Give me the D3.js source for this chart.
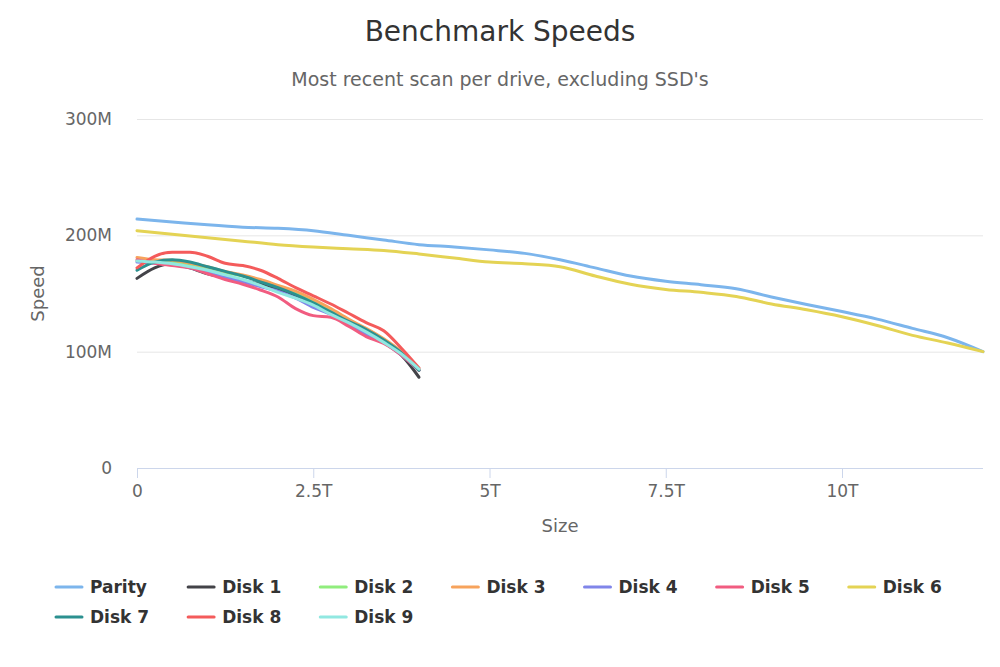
<!DOCTYPE html>
<html>
<head>
<meta charset="utf-8">
<script src="https://cdn.jsdelivr.net/npm/d3@7"></script>
<style>
  body { margin: 0; background: #fff; }
  text { font-family: "DejaVu Sans", sans-serif; }
</style>
</head>
<body>
<script>
const width = 1000;
const height = 667;
const margin = { top: 119, bottom: 199, right: 17, left: 137 };

// size in T, speed in M
const seriesNames = ["Parity", "Disk 1", "Disk 2", "Disk 3", "Disk 4", "Disk 5", "Disk 6", "Disk 7", "Disk 8", "Disk 9"];
const colores = ["#7cb5ec", "#434348", "#90ed7d", "#f7a35c", "#8085e9", "#f15c80", "#e4d354", "#2b908f", "#f45b5b", "#91e8e1"];

const largeSizes = [0, 0.5, 1, 1.5, 2, 2.5, 3, 3.5, 4, 4.5, 5, 5.5, 6, 6.5, 7, 7.5, 8, 8.5, 9, 9.5, 10, 10.5, 11, 11.5, 12];
const smallSizes = [0, 0.25, 0.5, 0.75, 1, 1.25, 1.5, 1.75, 2, 2.25, 2.5, 2.75, 3, 3.25, 3.5, 3.75, 4];

const parity = [214, 211.5, 209, 207, 206, 204, 200, 196, 192, 190, 187.5, 184.5, 179, 172, 165, 160.5, 157.5, 154, 147, 140.5, 134.5, 128, 120, 112, 100];
const disk6 = [204, 201, 198, 195, 192, 190, 188.5, 187, 184, 180.5, 177, 175.5, 173, 165, 158, 153.5, 151, 147.5, 141, 136, 130, 122.5, 114, 107.5, 100];

const disk1 = [163, 172, 176, 172, 167, 164, 161, 158, 154, 148, 141, 133, 124, 117, 108, 97, 78];
const disk2 = [178, 178, 177.5, 175, 172, 168, 165, 161, 156, 151, 144, 136, 127, 119, 110, 99, 84];
const disk3 = [181, 179, 178.5, 176, 173, 169, 166, 162, 157, 152, 145, 137, 128, 120, 111, 100, 85];
const disk4 = [177, 176, 175, 172, 168, 164, 160, 156, 152, 146, 138, 132, 124, 115, 108, 97, 84];
const disk5 = [179, 176, 174, 172, 167, 162, 158, 153, 147, 137, 131, 129.5, 122, 113, 107, 97, 84];
const disk7 = [170, 177, 179, 177, 173, 169, 165, 160, 155, 149, 142, 134, 126, 119, 110, 99, 84];
const disk8 = [172, 182, 185.5, 185.5, 182, 176, 174, 170, 163, 155, 148, 141, 133, 125, 118, 103, 86];
const disk9 = [178, 177, 175.5, 173, 170, 166, 162, 157, 151, 146, 140, 132, 125, 117, 108, 98, 85];

const valoresSerie = [parity, disk1, disk2, disk3, disk4, disk5, disk6, disk7, disk8, disk9];

const xTicks = [0, 2.5, 5, 7.5, 10];
const xTickLabels = ["0", "2.5T", "5T", "7.5T", "10T"];
const yTicks = [0, 100, 200, 300];
const yTickLabels = ["0", "100M", "200M", "300M"];

const datos = seriesNames.map((nombre, i) => {
  const valores = valoresSerie[i];
  const sizes = valores.length === largeSizes.length ? largeSizes : smallSizes;
  return { nombre, color: colores[i], puntos: valores.map((v, j) => ({ x: sizes[j], y: v })) };
});

const svg = d3.select("body").append("svg").attr("width", width).attr("height", height);

svg.append("text")
  .attr("x", width / 2).attr("y", 41)
  .attr("text-anchor", "middle")
  .attr("font-size", 28).attr("fill", "#333333")
  .text("Benchmark Speeds");

svg.append("text")
  .attr("x", width / 2).attr("y", 86)
  .attr("text-anchor", "middle")
  .attr("font-size", 19).attr("fill", "#666666")
  .text("Most recent scan per drive, excluding SSD's");

const innerW = width - margin.left - margin.right;
const innerH = height - margin.top - margin.bottom;

const escalaX = d3.scaleLinear().domain([0, 12]).range([0, innerW]);
const escalaY = d3.scaleLinear().domain([0, 300]).range([innerH, 0]);

const plot = svg.append("g").attr("transform", `translate(${margin.left}, ${margin.top})`);

// grid + y labels
const ejeY = d3.axisLeft(escalaY)
  .tickValues(yTicks)
  .tickSize(-innerW)
  .tickPadding(25)
  .tickFormat((d, i) => yTickLabels[i]);

const contenedorEjeY = plot.append("g").call(ejeY);
contenedorEjeY.select(".domain").remove();
contenedorEjeY.selectAll("line").attr("stroke", "#e6e6e6");
contenedorEjeY.selectAll("text")
  .attr("font-size", 17).attr("fill", "#666666")
  .attr("font-family", "DejaVu Sans, sans-serif");

// x axis
const ejeX = d3.axisBottom(escalaX)
  .tickValues(xTicks)
  .tickSize(10)
  .tickPadding(7)
  .tickFormat((d, i) => xTickLabels[i]);

const contenedorEjeX = plot.append("g").attr("transform", `translate(0, ${innerH})`).call(ejeX);
contenedorEjeX.select(".domain").attr("stroke", "#ccd6eb").attr("d", `M0.5,0.5H${innerW}`);
contenedorEjeX.selectAll("line").attr("stroke", "#ccd6eb");
contenedorEjeX.selectAll("text")
  .attr("font-size", 17).attr("fill", "#666666")
  .attr("font-family", "DejaVu Sans, sans-serif");

svg.append("text")
  .attr("x", margin.left + innerW / 2).attr("y", 532)
  .attr("text-anchor", "middle")
  .attr("font-size", 18).attr("fill", "#666666")
  .text("Size");

svg.append("text")
  .attr("transform", `translate(44, ${margin.top + innerH / 2}) rotate(-90)`)
  .attr("text-anchor", "middle")
  .attr("font-size", 18).attr("fill", "#666666")
  .text("Speed");

// lines
const linea = d3.line()
  .x((d) => escalaX(d.x))
  .y((d) => escalaY(d.y))
  .curve(d3.curveMonotoneX);

plot.selectAll("path.serie")
  .data(datos)
  .join("path")
  .attr("class", "serie")
  .attr("fill", "none")
  .attr("stroke", (d) => d.color)
  .attr("stroke-width", 3)
  .attr("stroke-linejoin", "round")
  .attr("stroke-linecap", "round")
  .attr("d", (d) => linea(d.puntos));

// legend, columns aligned like highcharts
const porFila = 7;
const legend = svg.append("g");
const items = legend.selectAll("g")
  .data(datos)
  .join("g");

items.append("line")
  .attr("x1", 0).attr("x2", 26)
  .attr("y1", -6).attr("y2", -6)
  .attr("stroke", (d) => d.color)
  .attr("stroke-width", 3)
  .attr("stroke-linecap", "round");

items.append("text")
  .attr("x", 34)
  .attr("font-size", 17)
  .attr("font-weight", "bold")
  .attr("fill", "#333333")
  .text((d) => d.nombre);

const anchos = [];
items.select("text").each(function (d, i) {
  const col = i % porFila;
  anchos[col] = Math.max(anchos[col] || 0, this.getComputedTextLength());
});
const colX = [];
let acumulado = 56;
for (let c = 0; c < porFila; c++) {
  colX[c] = acumulado;
  acumulado += 34 + anchos[c] + 39;
}
items.attr("transform", (d, i) => `translate(${colX[i % porFila]}, ${593 + Math.floor(i / porFila) * 30})`);
</script>
</body>
</html>
